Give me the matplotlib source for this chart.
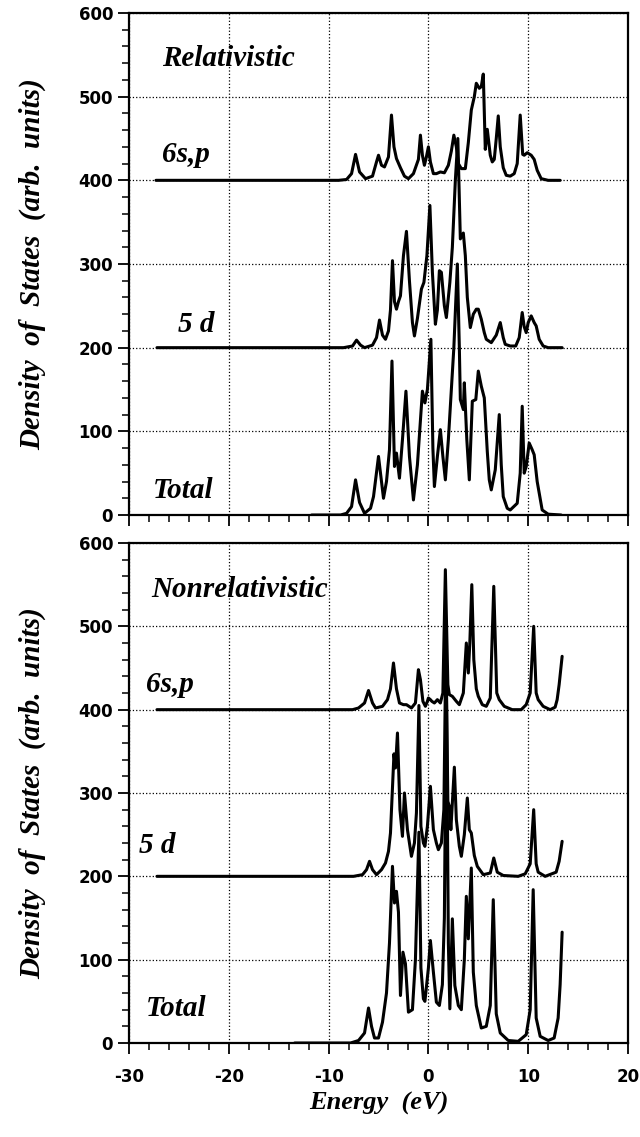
import matplotlib
matplotlib.use("Agg")
import matplotlib.pyplot as plt
from matplotlib.ticker import MultipleLocator

plt.rcParams['axes.unicode_minus'] = False

# ---- relativistic DOS (arb. units, without vertical offset) ----
rel_sp_E = [-27.3, -9.0, -8.2, -7.7, -7.3, -6.9, -6.3, -5.6, -5.2, -5.0, -4.7, -4.4, -4.0, -3.7,
            -3.45, -3.2, -2.8, -2.4, -2.0, -1.5, -1.0, -0.8, -0.6, -0.4, -0.2, 0.0, 0.2, 0.5,
            0.8, 1.2, 1.6, 2.0, 2.3, 2.55, 2.8, 3.0, 3.3, 3.7, 4.0, 4.3, 4.6, 4.8, 5.1, 5.3,
            5.5, 5.7, 5.9, 6.2, 6.4, 6.6, 6.8, 7.0, 7.2, 7.5, 7.8, 8.2, 8.6, 8.9, 9.2, 9.45,
            9.6, 9.9, 10.3, 10.6, 10.9, 11.3, 12.0, 13.2]
rel_sp_D = [0, 0, 1, 8, 31, 10, 2, 5, 22, 30, 18, 16, 28, 78,
            40, 26, 15, 5, 2, 8, 25, 54, 30, 18, 28, 40, 22, 8,
            8, 10, 9, 18, 35, 54, 40, 20, 14, 14, 45, 84, 100, 116, 110, 112,
            127, 37, 61, 30, 22, 25, 50, 77, 40, 15, 6, 5, 8, 20, 78, 31,
            30, 33, 30, 25, 12, 2, 0, 0]

rel_d_E = [-27.2, -8.5, -7.6, -7.2, -6.8, -6.4, -5.6, -5.2, -4.9, -4.6, -4.3, -4.0, -3.8, -3.6,
           -3.4, -3.2, -3.0, -2.8, -2.5, -2.2, -1.9, -1.6, -1.4, -1.1, -0.7, -0.45, -0.15, 0.15,
           0.4, 0.7, 0.9, 1.1, 1.3, 1.6, 1.8, 2.0, 2.15, 2.4, 2.7, 2.95, 3.2, 3.5, 3.7, 3.9,
           4.2, 4.5, 4.8, 5.0, 5.3, 5.6, 5.8, 6.3, 6.8, 7.2, 7.5, 7.7, 8.2, 8.75, 9.1, 9.4,
           9.6, 9.8, 10.0, 10.3, 10.6, 10.8, 11.1, 11.5, 12.0, 13.4]
rel_d_D = [0, 0, 2, 9, 3, 0, 3, 12, 33, 15, 10, 20, 45, 104,
           55, 46, 55, 62, 110, 139, 80, 30, 14, 35, 70, 78, 110, 170,
           90, 28, 45, 92, 90, 50, 36, 60, 78, 120, 200, 250, 130, 137, 110, 60,
           24, 40, 46, 46, 34, 18, 10, 6, 15, 30, 12, 4, 2, 2, 12, 42,
           25, 18, 30, 38, 30, 26, 10, 2, 0, 0]

rel_tot_E = [-11.7, -8.8, -8.2, -7.7, -7.3, -6.9, -6.4, -5.8, -5.5, -5.0, -4.7, -4.5, -4.2, -3.9,
             -3.65, -3.4, -3.2, -2.9, -2.6, -2.25, -1.9, -1.5, -1.1, -0.6, -0.35, -0.1, 0.25,
             0.45, 0.6, 0.9, 1.2, 1.45, 1.7, 2.0, 2.3, 2.55, 2.9, 3.1, 3.2, 3.5, 3.6, 3.85,
             4.1, 4.4, 4.75, 5.0, 5.3, 5.6, 5.9, 6.1, 6.3, 6.7, 7.1, 7.3, 7.5, 7.9, 8.2, 8.9,
             9.2, 9.4, 9.6, 9.8, 10.1, 10.4, 10.6, 10.9, 11.4, 12.0, 13.3]
rel_tot_D = [0, 0, 2, 10, 42, 15, 2, 8, 22, 70, 40, 20, 40, 78,
             184, 58, 74, 44, 90, 148, 70, 18, 60, 148, 134, 150, 210,
             80, 34, 70, 102, 70, 42, 90, 150, 200, 300, 200, 138, 126, 158, 90,
             42, 136, 138, 172, 154, 140, 76, 42, 30, 54, 120, 60, 22, 8, 6, 14,
             50, 130, 50, 58, 86, 78, 72, 40, 6, 1, 0]

# ---- nonrelativistic DOS ----
nr_sp_E = [-27.2, -7.6, -7.0, -6.4, -6.0, -5.6, -5.3, -4.6, -4.1, -3.8, -3.5, -3.2, -2.9, -2.5,
           -2.2, -1.7, -1.3, -1.0, -0.8, -0.55, -0.3, -0.1, 0.0, 0.2, 0.35, 0.6, 0.9, 1.2,
           1.45, 1.7, 1.95, 2.1, 2.4, 2.8, 3.1, 3.5, 3.8, 4.0, 4.15, 4.35, 4.55, 4.8, 5.0,
           5.4, 5.8, 6.2, 6.55, 6.85, 7.1, 7.6, 8.4, 9.3, 9.8, 10.2, 10.55, 10.8, 11.0, 11.5,
           12.2, 12.7, 12.9, 13.1, 13.4]
nr_sp_D = [0, 0, 2, 8, 23, 8, 2, 4, 12, 25, 56, 25, 8, 6,
           6, 2, 8, 48, 36, 10, 4, 10, 14, 12, 10, 8, 12, 8,
           20, 168, 30, 18, 16, 10, 6, 20, 80, 44, 80, 150, 60, 25, 16,
           6, 4, 14, 148, 20, 12, 4, 0, 0, 6, 20, 100, 20, 12, 4,
           0, 3, 12, 30, 64]

nr_d_E = [-27.2, -7.5, -6.6, -6.2, -5.9, -5.6, -5.2, -4.7, -4.3, -4.0, -3.8, -3.45, -3.3, -3.1,
          -2.85, -2.6, -2.4, -2.1, -1.7, -1.4, -1.2, -0.95, -0.75, -0.5, -0.35, -0.1, 0.2,
          0.5, 0.8, 1.0, 1.3, 1.55, 1.75, 1.95, 2.1, 2.25, 2.6, 2.8, 3.1, 3.3, 3.6, 3.9, 4.1,
          4.3, 4.6, 4.9, 5.5, 6.2, 6.55, 6.9, 7.5, 9.0, 9.7, 10.2, 10.55, 10.8, 11.0, 11.7,
          12.8, 13.1, 13.4]
nr_d_D = [0, 0, 2, 8, 18, 8, 2, 8, 16, 30, 52, 147, 130, 172,
          80, 48, 100, 56, 24, 40, 76, 205, 60, 40, 36, 60, 108,
          56, 40, 32, 40, 80, 280, 90, 84, 56, 131, 68, 36, 24, 50, 94, 56,
          52, 25, 12, 2, 4, 22, 5, 1, 0, 3, 15, 80, 15, 5, 0,
          5, 18, 42]

nr_tot_E = [-13.4, -7.8, -7.0, -6.4, -6.0, -5.7, -5.4, -5.0, -4.6, -4.2, -3.9, -3.6, -3.4, -3.2,
            -3.0, -2.8, -2.55, -2.3, -2.0, -1.6, -1.3, -0.95, -0.75, -0.5, -0.35, 0.0, 0.2,
            0.5, 0.8, 1.1, 1.4, 1.6, 1.8, 2.0, 2.15, 2.4, 2.65, 3.0, 3.3, 3.6, 3.8, 4.0, 4.3,
            4.5, 4.8, 5.3, 5.8, 6.2, 6.5, 6.8, 7.2, 8.0, 9.0, 9.8, 10.2, 10.5, 10.8, 11.2,
            12.0, 12.6, 13.0, 13.2, 13.4]
nr_tot_D = [0, 0, 3, 12, 42, 20, 6, 6, 25, 60, 120, 212, 168, 182,
            157, 57, 109, 95, 37, 40, 100, 253, 90, 53, 50, 90, 123,
            85, 49, 45, 70, 150, 440, 120, 41, 149, 69, 45, 40, 100, 176, 125, 210,
            85, 45, 18, 20, 45, 172, 35, 12, 3, 2, 10, 40, 184, 30, 8,
            3, 6, 30, 70, 133]

offsets = {'Total': 0, '5 d': 200, '6s,p': 400}

# label -> (energy of left edge, baseline height)
panels = [
    ([(rel_sp_E, rel_sp_D, '6s,p'), (rel_d_E, rel_d_D, '5 d'), (rel_tot_E, rel_tot_D, 'Total')],
     {'Relativistic': (-26.7, 537), '6s,p': (-26.7, 422), '5 d': (-25.1, 219), 'Total': (-27.6, 20)}),
    ([(nr_sp_E, nr_sp_D, '6s,p'), (nr_d_E, nr_d_D, '5 d'), (nr_tot_E, nr_tot_D, 'Total')],
     {'Nonrelativistic': (-27.8, 535), '6s,p': (-28.3, 421), '5 d': (-29.0, 228), 'Total': (-28.3, 33)}),
]

W, H = 640, 1137
fig = plt.figure(figsize=(W / 100, H / 100), dpi=100)
ax_top = fig.add_axes([129 / W, 1 - 515 / H, 499 / W, 502 / H])
ax_bot = fig.add_axes([129 / W, 1 - 1043 / H, 499 / W, 500 / H])

serif = dict(family='Liberation Serif', style='italic', weight='bold')

for ax, (curves, label_pos) in zip([ax_top, ax_bot], panels):
    for E, D, name in curves:
        ax.plot(E, [d + offsets[name] for d in D], color='black', lw=2.2,
                solid_joinstyle='round', solid_capstyle='round', zorder=3)
    for txt, (x, y) in label_pos.items():
        ax.text(x, y, txt, fontsize=21, va='baseline', ha='left', **serif)

    ax.set_xlim(-30, 20)
    ax.set_ylim(0, 600)
    ax.xaxis.set_major_locator(MultipleLocator(10))
    ax.xaxis.set_minor_locator(MultipleLocator(2))
    ax.yaxis.set_major_locator(MultipleLocator(100))
    ax.yaxis.set_minor_locator(MultipleLocator(20))
    ax.grid(True, which='major', color='black', linestyle=':', lw=0.9)
    ax.tick_params(which='major', direction='out', length=8, width=1.3)
    ax.tick_params(which='minor', direction='out', length=5, width=1.1)
    ax.tick_params(labelsize=12)
    for lab in ax.get_xticklabels() + ax.get_yticklabels():
        lab.set_fontweight('bold')
    for s in ax.spines.values():
        s.set_linewidth(1.6)
    ax.set_ylabel('Density  of  States  (arb.  units)', fontsize=21, **serif)
    ax.yaxis.set_label_coords(-0.166, 0.5)

ax_top.tick_params(labelbottom=False)
ax_bot.set_xlabel('Energy  (eV)', fontsize=19, labelpad=4, **serif)
ax_bot.tick_params(axis='x', pad=10)

fig.savefig('out.png', dpi=100)
